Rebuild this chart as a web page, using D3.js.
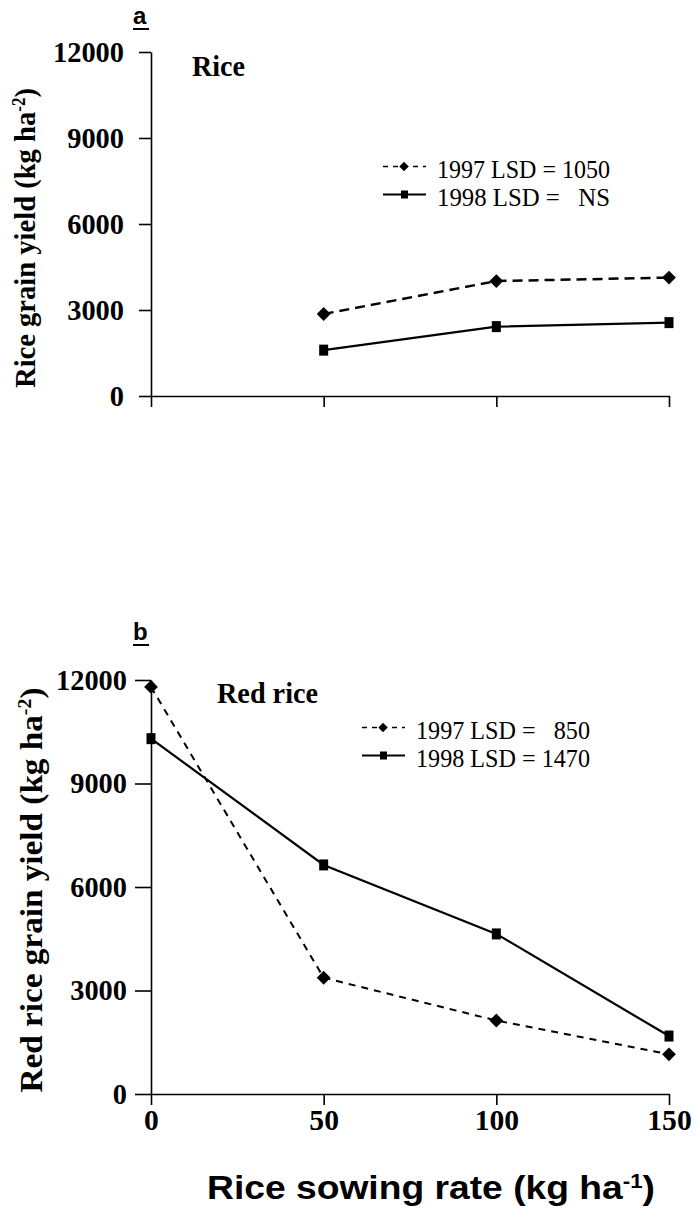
<!DOCTYPE html>
<html>
<head>
<meta charset="utf-8">
<script src="https://cdn.jsdelivr.net/npm/d3@7"></script>
<style>
body { margin: 0; background: #fff; }
text { white-space: pre; }
</style>
</head>
<body>
<div id="chart"></div>
<script>
// values
const rates = [0, 50, 100, 150];
const riceRates = [50, 100, 150];
const rice1997 = [2860, 4010, 4130];
const rice1998 = [1600, 2420, 2560];
const redRice1997 = [11800, 3370, 2130, 1150];
const redRice1998 = [10300, 6640, 4640, 1680];
const yTicks = [0, 3000, 6000, 9000, 12000];
const riceLegend = ["1997 LSD = 1050", "1998 LSD =   NS"];
const redRiceLegend = ["1997 LSD =   850", "1998 LSD = 1470"];

const serif = "'Liberation Serif', 'Times New Roman', serif";
const sans = "'Liberation Sans', Arial, sans-serif";

const svg = d3.select("#chart")
    .append("svg")
    .attr("width", 698)
    .attr("height", 1213);

const x = d3.scaleLinear()
    .domain([0, 150])
    .range([151, 669]);

function drawPanel(p) {
    const y = d3.scaleLinear()
        .domain([0, 12000])
        .range(p.yRange);

    const g = svg.append("g");

    // panel letter, underlined
    g.append("text")
        .attr("x", 133)
        .attr("y", p.letterY)
        .attr("font-family", sans)
        .attr("font-weight", "bold")
        .attr("font-size", 24)
        .text(p.letter);
    g.append("line")
        .attr("x1", 133).attr("x2", 149)
        .attr("y1", p.letterY + 5).attr("y2", p.letterY + 5)
        .attr("stroke", "#000")
        .attr("stroke-width", 2);

    /* Y axis */
    const yAxis = g.append("g")
        .attr("transform", `translate(${x(0)},0)`)
        .call(d3.axisLeft(y)
            .tickValues(yTicks)
            .tickSize(p.yTickLen)
            .tickSizeOuter(0)
            .tickPadding(p.yPad)
            .tickFormat(d3.format("d")));
    yAxis.attr("font-family", serif).attr("font-size", 29).attr("font-weight", "bold");
    yAxis.selectAll("text")
        .attr("fill", "#000")
        .attr("textLength", d => String(d).length * 14.2)
        .attr("lengthAdjust", "spacingAndGlyphs");
    yAxis.selectAll("path, line").attr("stroke", "#000").attr("stroke-width", 1.6);

    /* X axis */
    const xAxis = g.append("g")
        .attr("transform", `translate(0,${y(0)})`)
        .call(d3.axisBottom(x)
            .tickValues(rates)
            .tickSize(11)
            .tickSizeOuter(0)
            .tickPadding(4)
            .tickFormat(p.xLabels ? d3.format("d") : () => ""));
    xAxis.attr("font-family", serif).attr("font-size", 30).attr("font-weight", "bold");
    xAxis.selectAll("text")
        .attr("fill", "#000")
        .attr("textLength", d => String(d).length * 14.8)
        .attr("lengthAdjust", "spacingAndGlyphs");
    xAxis.selectAll("path, line").attr("stroke", "#000").attr("stroke-width", 1.6);

    // y title with superscript
    const yt = g.append("text")
        .attr("transform", `translate(${p.yTitleX},${p.yTitleMid}) rotate(-90)`)
        .attr("text-anchor", "middle")
        .attr("font-family", serif)
        .attr("font-weight", "bold")
        .attr("font-size", p.yTitleSize)
        .attr("textLength", p.yTitleLen)
        .attr("lengthAdjust", "spacingAndGlyphs");
    yt.append("tspan").text(p.yTitle + " (kg ha");
    yt.append("tspan").attr("font-size", "0.6em").attr("dy", "-0.55em").text("-2");
    yt.append("tspan").attr("dy", "0.33em").text(")");

    // crop label
    g.append("text")
        .attr("x", p.cropX)
        .attr("y", p.cropY)
        .attr("font-family", serif)
        .attr("font-weight", "bold")
        .attr("font-size", 30)
        .attr("textLength", p.cropLen)
        .attr("lengthAdjust", "spacingAndGlyphs")
        .text(p.crop);

    const line = d3.line()
        .x(d => x(d.rate))
        .y(d => y(d.value));

    const s97 = p.rates.map((r, i) => ({rate: r, value: p.v1997[i]}));
    const s98 = p.rates.map((r, i) => ({rate: r, value: p.v1998[i]}));

    g.append("path")
        .datum(s97)
        .attr("d", line)
        .attr("fill", "none")
        .attr("stroke", "#000")
        .attr("stroke-width", p.dashWidth)
        .attr("stroke-dasharray", p.dash);

    g.append("path")
        .datum(s98)
        .attr("d", line)
        .attr("fill", "none")
        .attr("stroke", "#000")
        .attr("stroke-width", 2.2);

    const diamond = d3.symbol(d3.symbolSquare, 95);
    g.selectAll(".dia")
        .data(s97)
        .enter()
        .append("path")
        .attr("d", diamond)
        .attr("transform", d => `translate(${x(d.rate)},${y(d.value)}) rotate(45)`)
        .attr("fill", "#000");

    g.selectAll(".sq")
        .data(s98)
        .enter()
        .append("rect")
        .attr("x", d => x(d.rate) - 4.5)
        .attr("y", d => y(d.value) - 5.5)
        .attr("width", 9)
        .attr("height", 11)
        .attr("fill", "#000");

    // legend
    p.legend.forEach((label, i) => {
        const base = p.legendY + i * 28;
        const ly = base - 11.5;
        g.append("line")
            .attr("x1", p.legendX).attr("x2", p.legendX + 43)
            .attr("y1", ly).attr("y2", ly)
            .attr("stroke", "#000")
            .attr("stroke-width", i === 0 ? 1.4 : 2)
            .attr("stroke-dasharray", i === 0 ? "5,5" : null);
        if (i === 0) {
            g.append("path")
                .attr("d", d3.symbol(d3.symbolSquare, 45))
                .attr("transform", `translate(${p.legendX + 21},${ly}) rotate(45)`)
                .attr("fill", "#000");
        } else {
            g.append("rect")
                .attr("x", p.legendX + 18).attr("y", ly - 4)
                .attr("width", 7).attr("height", 8)
                .attr("fill", "#000");
        }
        g.append("text")
            .attr("x", p.legendX + 54)
            .attr("y", base)
            .attr("font-family", serif)
            .attr("font-size", 26)
            .attr("fill", "#000")
            .attr("textLength", p.legendLen)
            .attr("lengthAdjust", "spacingAndGlyphs")
            .text(label);
    });
}

drawPanel({
    letter: "a", letterY: 24,
    yRange: [396, 52], yTickLen: 12, yPad: 15,
    xLabels: false,
    yTitle: "Rice grain yield", yTitleX: 35, yTitleMid: 238, yTitleSize: 30, yTitleLen: 300,
    crop: "Rice", cropX: 192, cropY: 76, cropLen: 53,
    rates: riceRates, v1997: rice1997, v1998: rice1998,
    dash: "10,6", dashWidth: 2.5,
    legend: riceLegend, legendX: 383, legendY: 178, legendLen: 173
});

drawPanel({
    letter: "b", letterY: 640,
    yRange: [1094, 680], yTickLen: 16, yPad: 8,
    xLabels: true,
    yTitle: "Red rice grain yield", yTitleX: 42, yTitleMid: 890, yTitleSize: 32, yTitleLen: 405,
    crop: "Red rice", cropX: 217, cropY: 703, cropLen: 101,
    rates: rates, v1997: redRice1997, v1998: redRice1998,
    dash: "7,6", dashWidth: 2,
    legend: redRiceLegend, legendX: 362, legendY: 739, legendLen: 174
});

// x axis title
const xt = svg.append("text")
    .attr("x", 207)
    .attr("y", 1199)
    .attr("font-family", sans)
    .attr("font-weight", "bold")
    .attr("font-size", 33)
    .attr("textLength", 448)
    .attr("lengthAdjust", "spacingAndGlyphs");
xt.append("tspan").text("Rice sowing rate (kg ha");
xt.append("tspan").attr("font-size", "0.6em").attr("dy", "-0.55em").text("-1");
xt.append("tspan").attr("dy", "0.33em").text(")");
</script>
</body>
</html>
